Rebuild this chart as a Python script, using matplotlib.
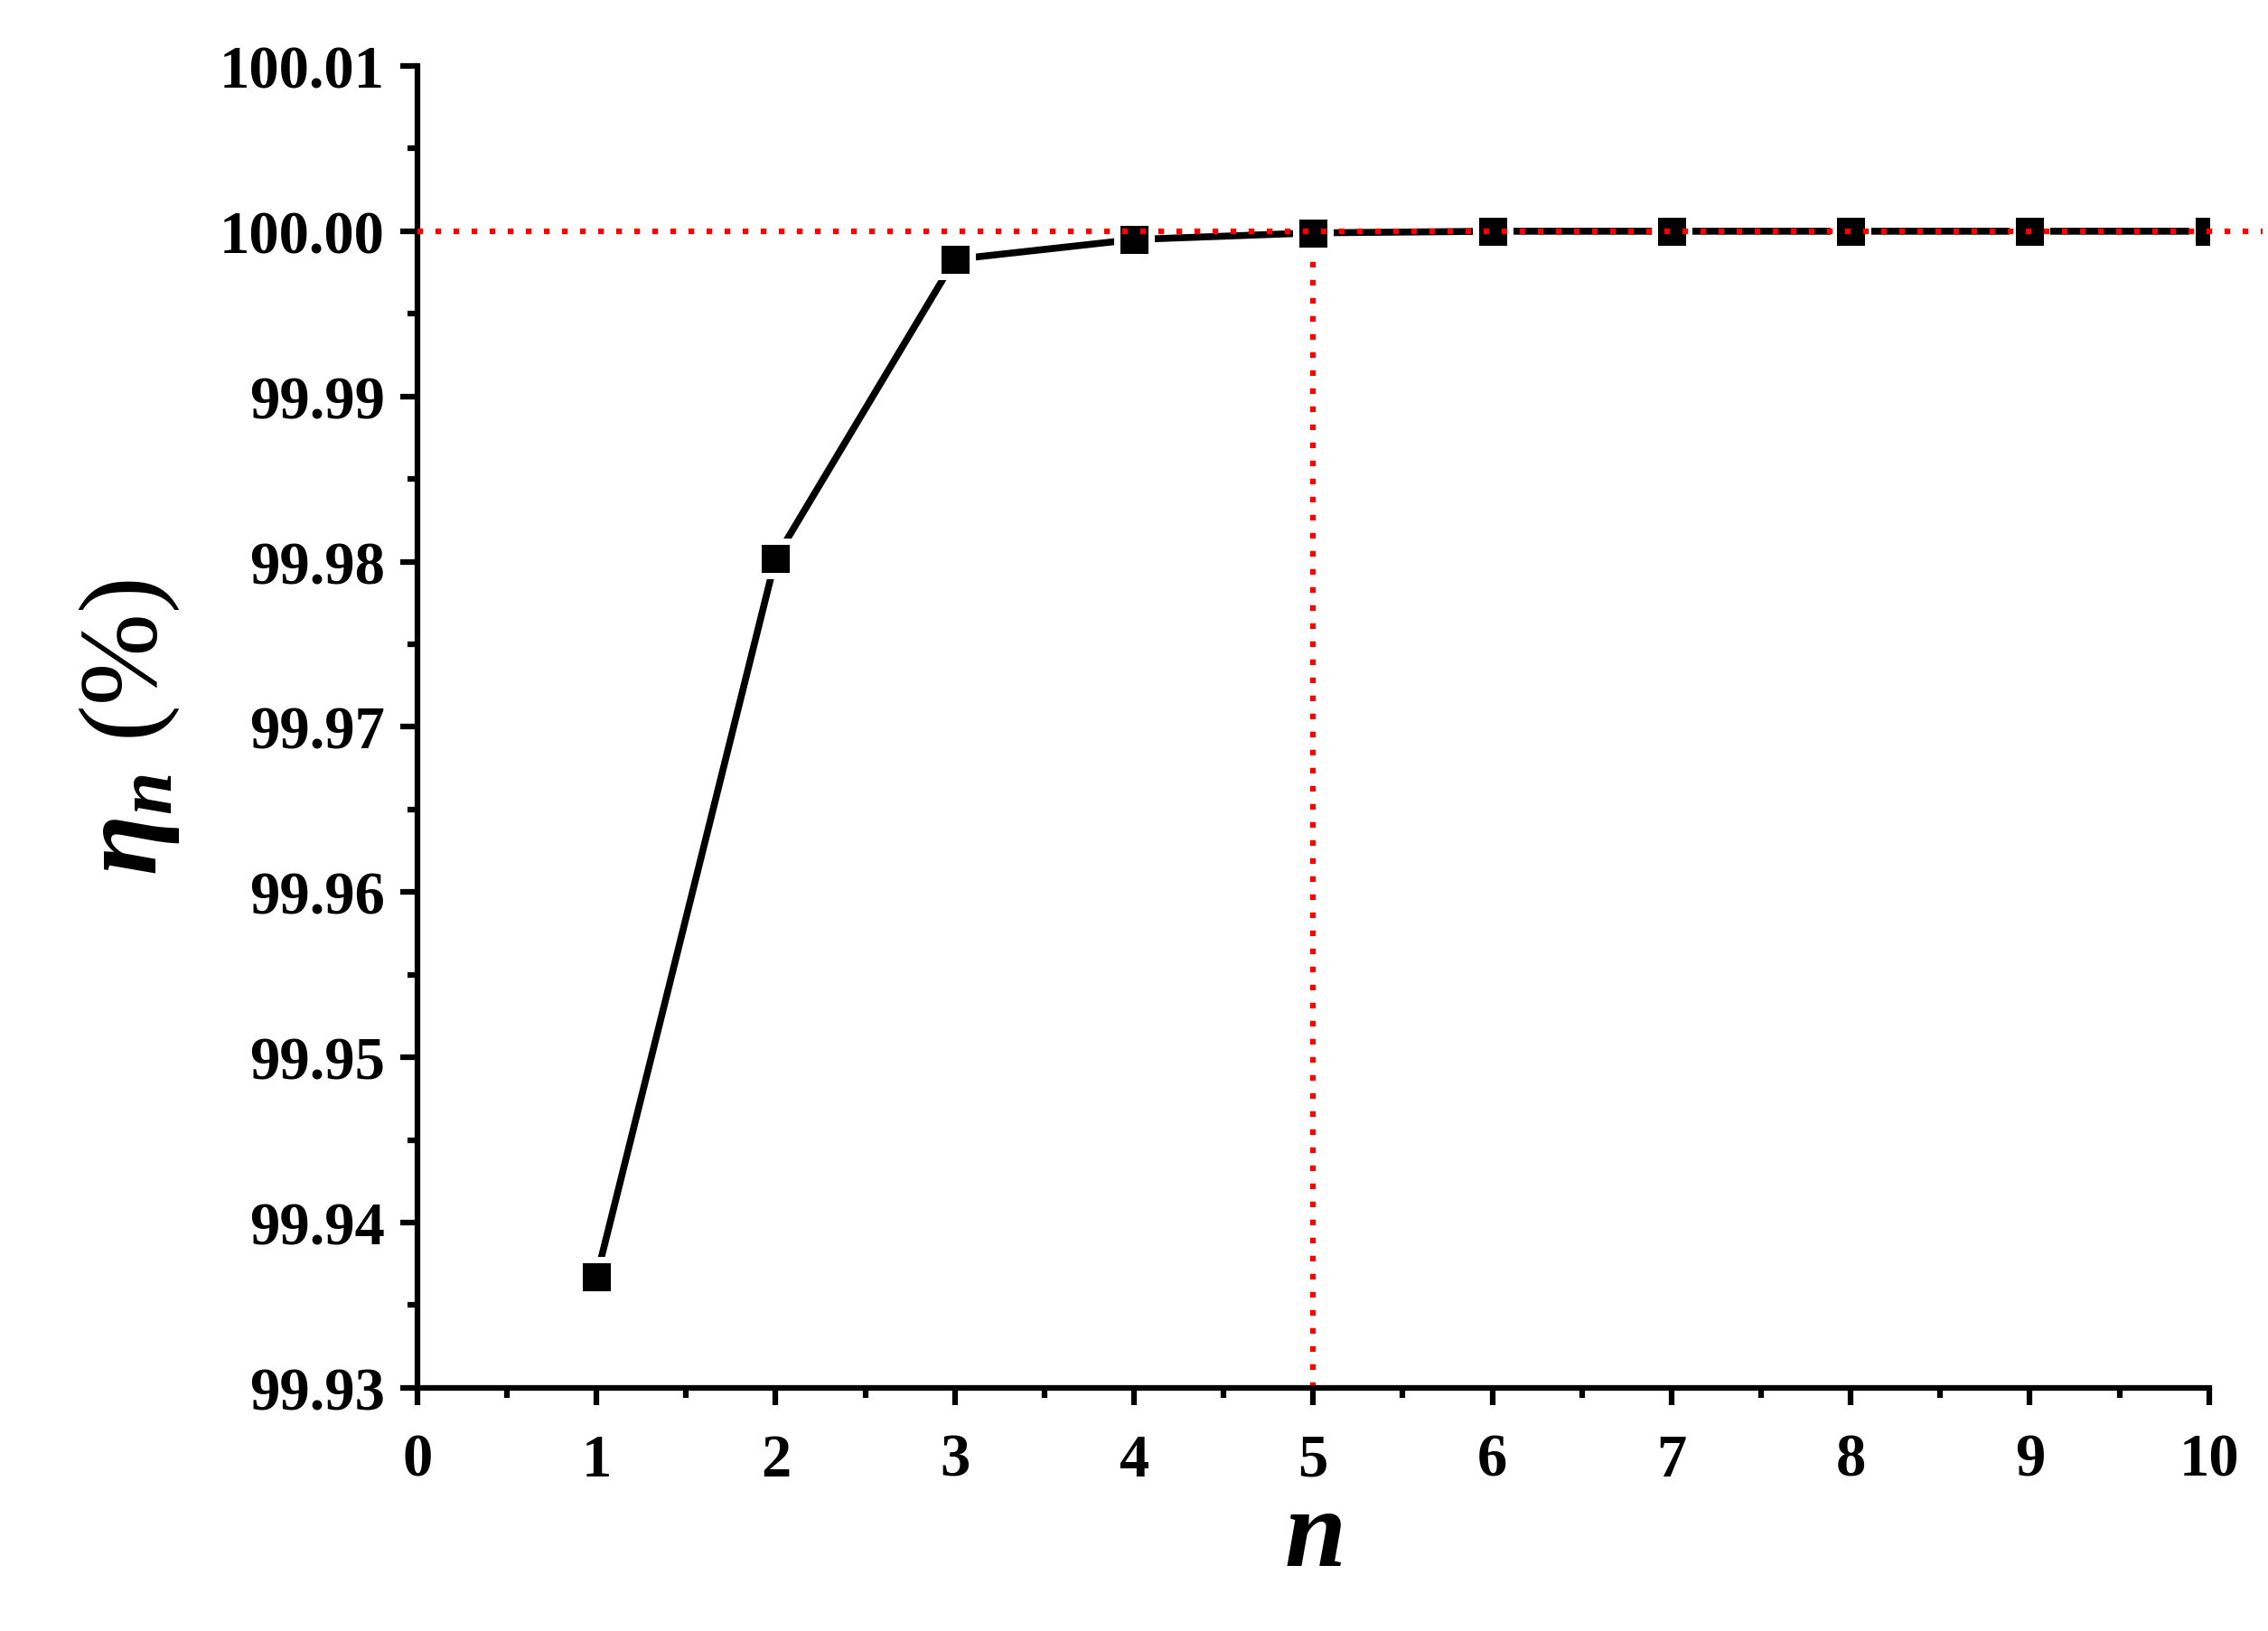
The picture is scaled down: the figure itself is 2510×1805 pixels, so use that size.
import matplotlib.pyplot as plt
from matplotlib.ticker import MultipleLocator

n_vals = [1, 2, 3, 4, 5, 6, 7, 8, 9, 10]
eta = [99.9367, 99.9802, 99.9983, 99.9995, 99.9999, 100.0, 100.0, 100.0, 100.0, 100.0]
y_ticks = [99.93, 99.94, 99.95, 99.96, 99.97, 99.98, 99.99, 100.00, 100.01]

plt.rcParams['font.family'] = ['Liberation Serif', 'Times New Roman', 'DejaVu Serif']
plt.rcParams['font.weight'] = 'bold'
plt.rcParams['mathtext.fontset'] = 'custom'
plt.rcParams['mathtext.it'] = 'Liberation Serif:italic:bold'
plt.rcParams['mathtext.rm'] = 'Liberation Serif:bold'

fig = plt.figure(figsize=(25.1, 18.06), dpi=100)
ax = fig.add_axes([0.184, 0.149, 0.79, 0.81])

# reference lines
ax.plot([5, 5], [99.93, 100.0], color='red', linestyle=(0, (1, 2.2)), linewidth=4.5, zorder=1)
ax.axhline(100.0, xmin=0, xmax=1.03, color='red', linestyle=(0, (1, 2.2)), linewidth=4.5, zorder=3, clip_on=False)

ax.plot(n_vals, eta, color='black', linewidth=5.5, marker='s', markersize=27,
        markerfacecolor='black', markeredgecolor='white', markeredgewidth=5, zorder=2)

ax.set_xlim(0, 10)
ax.set_ylim(99.93, 100.01)
ax.set_yticks(y_ticks)
ax.set_yticklabels([f'{v:.2f}' for v in y_ticks])
ax.xaxis.set_major_locator(MultipleLocator(1))
ax.xaxis.set_minor_locator(MultipleLocator(0.5))
ax.yaxis.set_minor_locator(MultipleLocator(0.005))

for s in ['top', 'right']:
    ax.spines[s].set_visible(False)
for s in ['left', 'bottom']:
    ax.spines[s].set_linewidth(4.5)

ax.tick_params(which='major', direction='out', length=14, width=4.5, labelsize=48, pad=12)
ax.tick_params(axis='x', which='major', pad=22)
ax.tick_params(which='minor', direction='out', length=8, width=4.5)

ax.set_xlabel(r'$n$', fontsize=88, labelpad=0)
ax.set_ylabel(r'$\eta_n$ (%)', fontsize=88, labelpad=30)

fig.savefig('out.png', dpi=100)
